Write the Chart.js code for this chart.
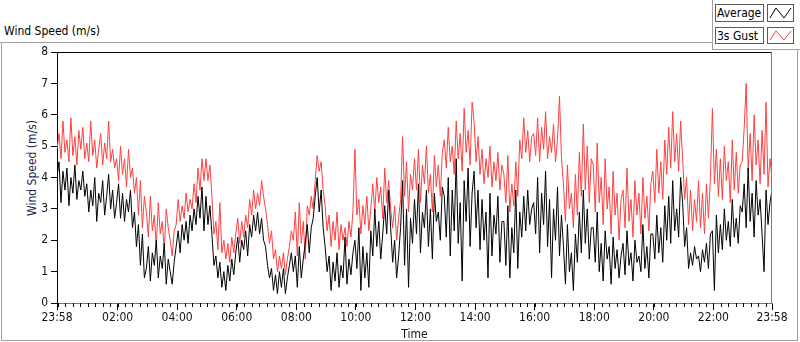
<!DOCTYPE html>
<html><head><meta charset="utf-8">
<script src="https://cdn.jsdelivr.net/npm/chart.js@4.4.1/dist/chart.umd.min.js"></script>
<style>
html,body{margin:0;padding:0;background:#fff;}
#wrap{position:relative;width:800px;height:342px;overflow:hidden;font-family:'DejaVu Sans Condensed','Liberation Sans',sans-serif;font-size:12px;color:#000;}
.ln{position:absolute;background:#a0a0a0;}
canvas{position:absolute;left:0;top:0;}
.box{position:absolute;box-sizing:border-box;border:1px solid #5a5a5a;background:#fff;}
.txt{position:absolute;white-space:nowrap;line-height:14px;}
#ytitle{position:absolute;left:32px;top:168px;transform:translate(-50%,-50%) rotate(-90deg);white-space:nowrap;color:#1c1c50;line-height:14px;}
</style></head>
<body><div id="wrap">
<div class="ln" style="left:0;top:42px;width:712px;height:1px"></div>
<div class="ln" style="left:712px;top:0;width:1px;height:50px"></div>
<div class="ln" style="left:712px;top:49px;width:88px;height:1px"></div>
<div class="ln" style="left:1px;top:42px;width:1px;height:299px"></div>
<div class="ln" style="left:797px;top:49px;width:1px;height:292px"></div>
<div class="ln" style="left:1px;top:340px;width:797px;height:1px"></div>
<div class="txt" style="left:4px;top:24px">Wind Speed (m/s)</div>
<div id="ytitle">Wind Speed (m/s)</div>
<div class="box" style="left:715px;top:4px;width:49px;height:18px"><span class="txt" style="left:1px;top:1px">Average</span></div>
<div class="box" style="left:767px;top:4px;width:27px;height:18px"><svg width="25" height="16" style="position:absolute;left:0;top:0"><polyline points="2,13 8,3 16,13 23,3" fill="none" stroke="#000" stroke-width="1"/></svg></div>
<div class="box" style="left:715px;top:27px;width:49px;height:17px"><span class="txt" style="left:1px;top:1px">3s Gust</span></div>
<div class="box" style="left:767px;top:27px;width:27px;height:17px"><svg width="25" height="15" style="position:absolute;left:0;top:0"><polyline points="2,12 8,3 16,12 23,3" fill="none" stroke="#ff4040" stroke-width="1"/></svg></div>
<canvas id="c" width="800" height="342"></canvas>
</div>
<script>
// ---- data ----
const sampleStepMin = 4; // minutes between samples, starting 23:58
const average = [
4.0,4.5,3.2,4.2,3.6,4.3,3.1,4.0,3.5,4.4,3.3,3.9,3.6,4.2,3.4,
3.8,2.9,3.6,3.1,4.0,2.6,3.5,3.2,3.9,2.8,3.4,4.1,3.0,3.6,2.7,
3.2,3.8,2.7,3.5,2.6,3.3,2.9,3.6,2.4,2.9,1.8,2.5,1.2,2.2,0.8,
1.1,1.8,0.7,1.6,1.2,2.0,0.8,1.5,1.1,1.9,0.6,1.4,1.0,0.6,1.3,
1.8,2.3,1.6,2.5,2.0,2.6,1.9,2.8,2.3,3.0,2.5,3.4,2.7,3.7,2.3,
3.4,2.5,3.1,2.2,1.2,1.5,0.8,1.3,0.5,1.0,0.4,1.2,0.7,1.4,0.9,
1.6,2.1,1.3,2.0,1.7,2.3,1.5,2.5,2.1,2.8,2.3,2.9,2.2,2.7,2.0,
1.8,1.2,0.8,1.1,0.4,0.9,0.3,1.0,0.5,1.1,0.3,0.8,1.2,1.6,1.0,
1.5,0.5,1.8,0.8,1.4,1.9,2.5,1.6,2.4,2.7,3.4,4.0,2.9,3.6,2.4,
1.8,1.0,1.5,0.4,1.3,0.7,1.6,0.5,1.2,0.8,2.1,0.6,1.4,0.9,1.6,
2.0,1.1,2.4,0.4,1.8,0.8,1.6,0.5,2.3,1.5,3.0,1.8,2.6,1.4,2.2,
3.1,2.2,3.6,2.4,1.3,2.0,0.8,1.5,2.4,3.9,1.2,3.0,0.5,2.7,1.9,
3.3,2.2,3.8,1.6,2.9,2.4,3.6,1.8,3.0,1.4,3.5,2.6,2.9,2.0,3.7,
3.4,2.1,4.0,1.5,3.6,2.3,4.6,1.9,3.2,0.7,3.9,2.6,4.3,1.8,3.5,
4.2,2.4,3.6,1.7,3.3,2.0,2.9,0.8,3.5,1.5,2.8,2.2,3.4,1.3,2.6,
2.6,1.2,3.1,0.8,2.4,1.6,3.6,1.1,2.9,2.1,3.4,2.3,3.6,2.5,3.0,
3.2,2.2,4.0,1.6,3.5,2.5,4.2,1.8,3.3,0.8,3.0,2.0,3.7,1.5,2.8,
1.8,0.6,2.5,1.0,1.6,0.4,2.2,1.3,2.9,1.6,3.6,1.9,3.0,1.4,2.4,
2.4,1.3,2.9,1.0,1.9,0.7,2.3,1.4,1.8,0.6,2.1,1.1,1.7,0.8,1.5,
1.9,0.9,2.3,1.2,1.6,0.7,2.0,1.3,1.5,1.0,2.5,1.1,1.8,0.8,2.2,
2.2,1.4,2.8,1.6,2.4,1.3,3.1,2.0,3.4,1.9,3.9,2.3,3.0,2.1,4.0,
3.2,1.8,2.4,1.1,1.6,1.2,1.8,1.4,1.5,1.0,1.7,1.3,1.9,1.1,2.2,
2.3,0.4,2.8,1.6,2.5,1.7,3.0,2.0,2.6,1.8,3.3,2.1,2.7,1.9,3.1,
2.9,3.8,2.4,4.3,2.6,3.5,2.1,3.9,2.8,3.3,2.2,1.0,3.6,2.5,3.2,
3.6];
const gust = [
4.9,5.4,4.6,5.8,4.8,5.2,4.5,5.9,4.7,5.3,4.4,5.5,4.9,5.6,4.6,
5.1,4.5,5.8,4.7,5.2,4.3,4.9,5.4,4.4,5.1,4.6,5.8,4.5,4.9,4.3,
4.6,3.9,5.0,4.1,4.6,3.7,4.9,4.0,4.3,3.5,4.0,2.8,3.9,2.4,3.4,
2.9,2.1,3.4,2.3,2.8,1.8,3.2,2.2,2.6,1.7,3.0,2.4,2.0,1.5,2.3,
2.5,3.3,2.6,3.1,2.7,3.5,2.9,3.3,3.0,3.8,3.2,4.3,3.6,4.6,3.9,
4.6,3.9,4.4,3.4,2.2,2.6,1.7,3.2,1.6,2.0,1.4,1.9,1.3,2.1,1.6,
2.2,2.7,1.9,2.6,2.1,2.8,2.4,3.3,2.8,3.6,3.0,3.5,3.1,3.9,3.4,
3.0,2.5,1.9,2.3,1.4,1.7,1.0,1.5,1.1,1.6,0.9,1.4,1.8,2.3,2.0,
2.9,1.5,3.2,1.9,2.6,1.4,3.1,2.8,3.4,3.0,3.9,4.7,4.2,4.5,3.6,
3.1,2.3,2.8,1.8,2.6,2.0,2.9,1.7,2.5,2.0,2.4,1.8,2.6,2.1,2.9,
4.9,2.8,3.3,2.2,3.1,2.5,3.4,2.3,3.0,3.8,2.9,4.0,3.2,3.7,2.7,
4.3,3.2,3.9,3.0,2.4,3.1,2.0,2.7,3.3,5.3,3.4,4.5,2.9,4.1,3.6,
4.6,3.6,4.9,3.2,4.4,3.8,5.0,3.5,4.1,2.9,4.7,3.7,4.4,3.4,4.8,
5.2,4.3,5.6,4.5,5.0,4.1,5.8,4.6,5.4,4.2,6.2,4.8,5.5,4.4,6.4,
5.8,4.5,5.3,4.1,4.9,3.8,4.6,4.0,5.0,3.7,4.5,3.9,4.8,3.6,4.4,
4.1,3.2,4.7,2.9,3.8,3.1,4.5,3.4,5.2,4.6,5.9,4.8,5.5,4.5,5.3,
5.4,4.7,5.9,4.5,5.6,4.9,6.1,4.6,5.3,4.8,5.7,4.5,5.2,6.6,4.6,
3.8,2.6,4.4,3.0,3.5,2.4,4.1,2.8,4.8,3.4,5.7,3.6,5.0,3.2,4.6,
4.4,2.9,5.1,3.2,4.0,2.5,4.6,3.0,3.7,2.2,4.2,2.8,3.5,2.0,3.3,
3.6,2.4,4.3,2.6,3.3,2.1,3.9,2.8,3.5,2.2,4.0,2.7,3.4,2.3,3.8,
4.2,3.2,4.9,3.5,4.5,3.3,5.2,4.1,5.6,4.3,6.1,4.5,5.4,4.2,5.8,
4.6,3.3,4.0,2.5,3.6,2.3,3.3,2.6,3.9,2.4,3.5,2.2,3.8,2.7,4.0,
6.2,3.8,4.9,3.4,4.6,3.3,5.0,3.9,4.5,3.2,5.2,3.6,4.8,3.5,4.4,
4.5,5.6,7.0,4.2,5.4,3.9,6.0,4.4,5.2,3.8,5.5,4.1,6.4,3.7,4.6,
4.0];
const timeTickLabels = ['23:58','02:00','04:00','06:00','08:00','10:00','12:00','14:00','16:00','18:00','20:00','22:00','23:58'];
const timeTickMinutes = [0,122,242,362,482,602,722,842,962,1082,1202,1322,1440];
const yTickValues = [0,1,2,3,4,5,6,7,8];

// ---- chart ----
const FONT = "'DejaVu Sans Condensed','Liberation Sans',sans-serif";
const toXY = arr => arr.map((v,i)=>({x:i*sampleStepMin, y:v}));

const framePlugin = {
  id:'frame',
  afterDraw(chart){
    const {ctx, chartArea:a, scales:{x}} = chart;
    ctx.save();
    ctx.lineWidth = 1;
    ctx.strokeStyle = '#000';
    ctx.beginPath();
    ctx.moveTo(a.left, a.top+0.5); ctx.lineTo(a.right, a.top+0.5);
    ctx.stroke();
    ctx.strokeStyle = '#7a7a7a';
    ctx.beginPath();
    ctx.moveTo(a.right-0.5, a.top); ctx.lineTo(a.right-0.5, a.bottom);
    ctx.stroke();
    // minor ticks every 15 clock-minutes
    ctx.strokeStyle = '#000';
    ctx.beginPath();
    for (let m = 2; m < 1440; m += 15) {
      const px = Math.round(x.getPixelForValue(m)) + 0.5;
      ctx.moveTo(px, a.bottom); ctx.lineTo(px, a.bottom + 4);
    }
    ctx.stroke();
    ctx.restore();
  }
};

new Chart(document.getElementById('c'), {
  type:'line',
  data:{datasets:[
    {label:'Average', data:toXY(average), borderColor:'#000', borderWidth:1, pointRadius:0, tension:0, fill:false},
    {label:'3s Gust', data:toXY(gust), borderColor:'#ff4040', borderWidth:1, pointRadius:0, tension:0, fill:false}
  ]},
  options:{
    responsive:false, devicePixelRatio:1, animation:false,
    layout:{padding:{left:0, top:52, right:28, bottom:0}},
    plugins:{legend:{display:false}, tooltip:{enabled:false}},
    scales:{
      x:{type:'linear', min:0, max:1440,
        afterBuildTicks:s=>{ s.ticks = timeTickMinutes.map(v=>({value:v})); },
        afterFit:s=>{ s.height = 39; },
        ticks:{autoSkip:false, maxRotation:0, padding:1, color:'#111', font:{family:FONT, size:12},
          callback:(v,i)=>timeTickLabels[i]},
        grid:{drawOnChartArea:false, tickLength:7, tickColor:'#000'},
        border:{display:true, color:'#7a7a7a'},
        title:{display:true, text:'Time', color:'#111', font:{family:FONT, size:12}, padding:{top:0, bottom:0}}
      },
      y:{min:0, max:8,
        afterBuildTicks:s=>{ s.ticks = yTickValues.map(v=>({value:v})); },
        afterFit:s=>{ s.width = 57; },
        ticks:{padding:3, color:'#111', font:{family:FONT, size:12}},
        grid:{drawOnChartArea:false, tickLength:6, tickColor:'#000'},
        border:{display:true, color:'#000'}
      }
    }
  },
  plugins:[framePlugin]
});
</script>
</body></html>
